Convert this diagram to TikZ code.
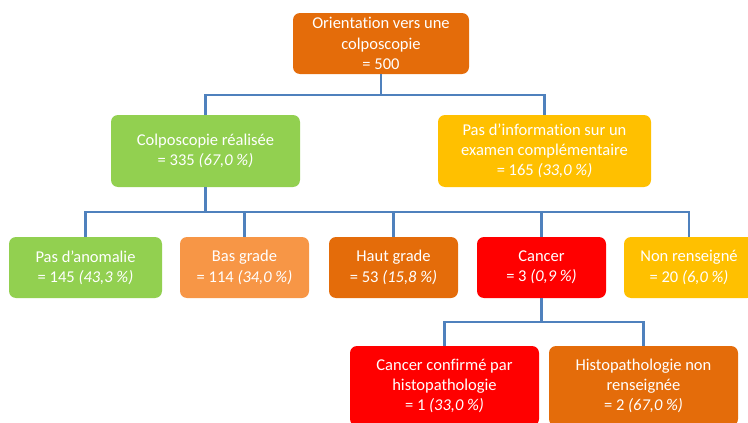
\documentclass[tikz,border=0pt]{standalone}
\usepackage{fontspec}
\setmainfont{Carlito}[Ligatures={TeX,NoCommon}]
\usepackage{tikz}

\definecolor{darkorange}{HTML}{E46C0A}
\definecolor{lightgreen}{HTML}{92D050}
\definecolor{lightorange}{HTML}{F79646}
\definecolor{alertred}{HTML}{FF0000}
\definecolor{amber}{HTML}{FFC000}
\definecolor{linkblue}{HTML}{4F81BD}

\begin{document}
\begin{tikzpicture}[x=1pt, y=-1pt,
  box/.style={rounded corners=7pt, text=white, align=center, inner sep=0pt, font=\fontsize{16.5}{20.3}\selectfont},
  small/.style={minimum width=129pt, minimum height=61pt},
  wide/.style={minimum width=189pt, minimum height=72pt},
  link/.style={draw=linkblue, line width=2.6pt}]
\clip (0,0) rectangle (748,423);

% Top level
\node[box, fill=darkorange, minimum width=176pt, minimum height=61pt] (root) at (381,43.5) {Orientation vers une\\colposcopie\\= 500};

% Second level
\node[box, wide, fill=lightgreen] (colpo) at (205.5,151) {Colposcopie réalisée\\= 335 \textit{(67,0 \%)}};
\node[box, wide, fill=amber, minimum width=213pt] (noinfo) at (544.5,151) {Pas d’information sur un\\examen complémentaire\\= 165 \textit{(33,0 \%)}};

% Results of the colposcopy
\node[box, small, fill=lightgreen, minimum width=153pt] (normal) at (85.5,267.5) {Pas d’anomalie\\= 145 \textit{(43,3 \%)}};
\node[box, small, fill=lightorange] (low)    at (244.5,267.5) {Bas grade\\= 114 \textit{(34,0 \%)}};
\node[box, small, fill=darkorange]  (high)   at (393.5,267.5) {Haut grade\\= 53 \textit{(15,8 \%)}};
\node[box, small, fill=alertred]    (cancer) at (541.5,267.5) {Cancer\\= 3 \textit{(0,9 \%)}};
\node[box, small, fill=amber, minimum width=130pt] (nr) at (689,267.5) {Non renseigné\\= 20 \textit{(6,0 \%)}};

% Cancer split
\node[box, wide, fill=alertred, minimum height=80pt]   (confirmed) at (444.5,386) {Cancer confirmé par\\histopathologie\\= 1 \textit{(33,0 \%)}};
\node[box, wide, fill=darkorange, minimum height=80pt] (histonr)   at (643.5,386) {Histopathologie non\\renseignée\\= 2 \textit{(67,0 \%)}};

% Branch points
\coordinate (j1) at (381,95);
\coordinate (j2) at (205.5,212);
\coordinate (j3) at (541.5,322);

% Connectors
\draw[link] (root.south) -- (j1);
\draw[link] (colpo.north) |- (j1) -| (noinfo.north);
\draw[link] (colpo.south) -- (j2);
\draw[link] (normal.north) |- (j2) -| (nr.north);
\foreach \n in {low, high, cancer}
  \draw[link] (\n.north) -- (\n.north |- j2);
\draw[link] (cancer.south) -- (j3);
\draw[link] (confirmed.north) |- (j3) -| (histonr.north);
\end{tikzpicture}
\end{document}
